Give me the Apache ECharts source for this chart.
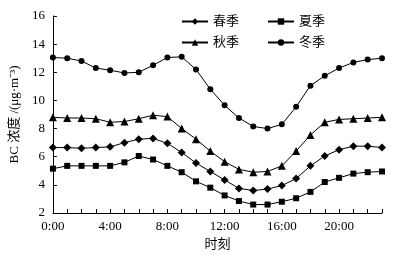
<!DOCTYPE html>
<html>
<head>
<meta charset="utf-8">
<script src="https://cdn.jsdelivr.net/npm/echarts@6/dist/echarts.min.js"></script>
<style>
html, body { margin: 0; padding: 0; background: #fff; }
#chart { width: 404px; height: 260px; }
</style>
</head>
<body>
<div id="chart"></div>
<script>
var hours = ['0:00','1:00','2:00','3:00','4:00','5:00','6:00','7:00','8:00','9:00','10:00','11:00',
             '12:00','13:00','14:00','15:00','16:00','17:00','18:00','19:00','20:00','21:00','22:00','23:00'];

var spring = [6.65, 6.65, 6.6, 6.65, 6.7, 7.0, 7.25, 7.3, 6.95, 6.3, 5.55, 4.95,
              4.35, 3.75, 3.6, 3.7, 3.95, 4.45, 5.35, 6.05, 6.5, 6.75, 6.75, 6.65];

var summer = [5.15, 5.35, 5.35, 5.35, 5.35, 5.6, 6.05, 5.8, 5.35, 4.9, 4.25, 3.8,
              3.25, 2.85, 2.6, 2.6, 2.8, 3.05, 3.5, 4.2, 4.5, 4.8, 4.9, 4.95];

var autumn = [8.8, 8.75, 8.75, 8.7, 8.45, 8.5, 8.7, 8.95, 8.85, 8.0, 7.25, 6.4,
              5.65, 5.1, 4.9, 4.95, 5.35, 6.4, 7.55, 8.45, 8.65, 8.7, 8.75, 8.8];

var winter = [13.05, 13.0, 12.8, 12.3, 12.15, 11.95, 12.0, 12.5, 13.05, 13.1, 12.2, 10.8,
              9.65, 8.75, 8.15, 8.0, 8.3, 9.55, 11.05, 11.75, 12.3, 12.7, 12.9, 13.0];

var fontFam = '"Liberation Serif", "Noto Sans CJK SC", serif';

var myChart = echarts.init(document.getElementById('chart'));

function mkSeries(name, data, symbol, size) {
    return {
        name: name,
        type: 'line',
        data: data,
        symbol: symbol,
        symbolSize: size,
        showAllSymbol: true,
        itemStyle: { color: '#000' },
        lineStyle: { color: '#000', width: 1 },
        animation: false
    };
}

var legendBase = {
    orient: 'horizontal',
    left: 176,
    itemWidth: 26,
    itemHeight: 8,
    itemGap: 28,
    textStyle: { fontFamily: fontFam, fontSize: 13, color: '#000' }
};

var option = {
    backgroundColor: '#fff',
    textStyle: { fontFamily: fontFam },
    legend: [
        Object.assign({ top: 10, data: ['春季', '夏季'] }, legendBase),
        Object.assign({ top: 31, data: ['秋季', '冬季'] }, legendBase)
    ],
    grid: { left: 45, right: 22, top: 16, bottom: 47, containLabel: false },
    xAxis: {
        type: 'category',
        data: hours,
        boundaryGap: false,
        name: '时刻',
        nameLocation: 'middle',
        nameGap: 25,
        nameTextStyle: { fontFamily: fontFam, fontSize: 13, color: '#000' },
        axisLine: { lineStyle: { color: '#000', width: 1 } },
        axisTick: { inside: true, length: 4, interval: 0, lineStyle: { color: '#000' } },
        axisLabel: { interval: 3, color: '#000', fontSize: 13, fontFamily: fontFam, margin: 7 },
        splitLine: { show: false }
    },
    yAxis: {
        type: 'value',
        min: 2,
        max: 16,
        interval: 2,
        name: 'BC 浓度 /(μg·m⁻³)',
        nameLocation: 'middle',
        nameRotate: 90,
        nameGap: 27,
        nameTextStyle: { fontFamily: fontFam, fontSize: 13, color: '#000' },
        axisLine: { show: true, lineStyle: { color: '#000', width: 1 } },
        axisTick: { show: true, inside: true, length: 4, lineStyle: { color: '#000' } },
        axisLabel: { color: '#000', fontSize: 13, fontFamily: fontFam, margin: 8 },
        splitLine: { show: false }
    },
    series: [
        mkSeries('春季', spring, 'diamond', 8),
        mkSeries('夏季', summer, 'rect', 6),
        mkSeries('秋季', autumn, 'triangle', 8),
        mkSeries('冬季', winter, 'circle', 6)
    ]
};

myChart.setOption(option);
</script>
</body>
</html>
